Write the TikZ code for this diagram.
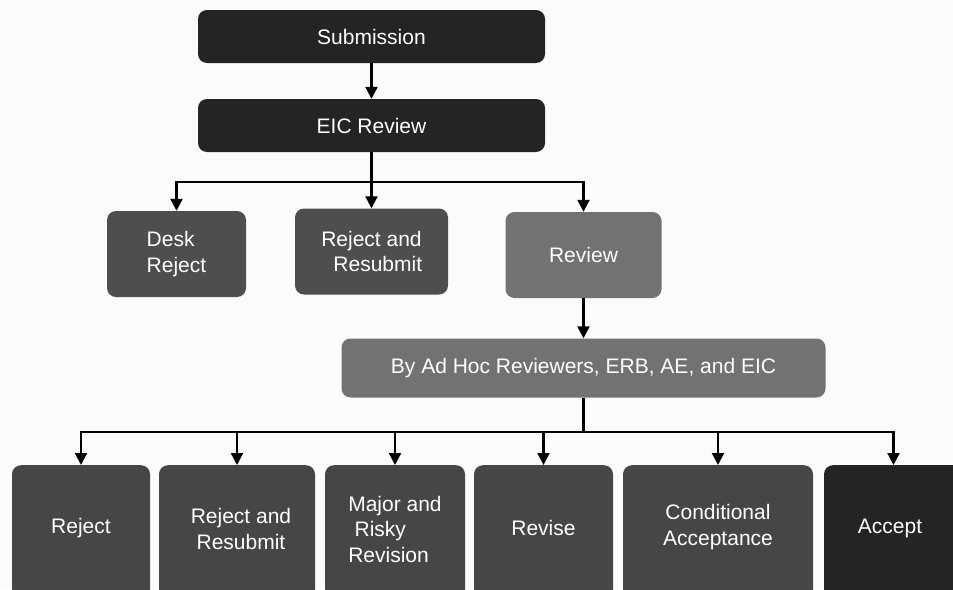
\documentclass[tikz,border=0pt]{standalone}
\usepackage{fontspec}
\setmainfont{Liberation Sans}
\usetikzlibrary{arrows.meta}
\definecolor{cdark}{HTML}{242424}
\definecolor{cmid}{HTML}{464646}
\definecolor{cdesk}{HTML}{4E4E4E}
\definecolor{clight}{HTML}{727272}
\definecolor{cbg}{HTML}{FBFBFB}
\tikzset{
  box/.style={rounded corners=9pt, inner sep=0pt, text=white, align=center,
    font=\fontsize{21}{25.5}\selectfont},
  conn/.style={line width=2.2pt, -{Triangle[length=12pt,width=12pt]}},
  plain/.style={line width=2.2pt},
  lbl/.style={text=white, align=center, inner sep=0pt, font=\fontsize{21}{25.5}\selectfont}
}
\begin{document}
\begin{tikzpicture}[x=1pt,y=-1pt]
\clip (0,0) rectangle (953,589);
\fill[cbg] (0,0) rectangle (953,589);
% top level
\node[box, fill=cdark, minimum width=347pt, minimum height=53pt] (sub) at (371.5,36.5) {Submission};
\node[box, fill=cdark, minimum width=347pt, minimum height=53pt] (eic) at (371.5,125.5) {EIC Review};
% second level
\node[box, fill=cdesk, minimum width=139pt, minimum height=86pt, align=left] (dr) at (176.5,254) {Desk\\Reject};
\node[box, fill=cdesk, minimum width=153pt, minimum height=86pt] (rr) at (371.5,251.5) {Reject and\\\hspace*{0.6em}Resubmit};
\node[box, fill=clight, minimum width=156pt, minimum height=86pt] (rv) at (583.5,255) {Review};
% reviewers
\node[box, fill=clight, minimum width=484pt, minimum height=59pt] (adhoc) at (583.5,368) {By Ad Hoc Reviewers, ERB, AE, and EIC};
% bottom boxes (extend below the frame)
\node[box, fill=cmid, minimum width=138pt, minimum height=140pt, anchor=north] (b1) at (81,465) {};
\node[box, fill=cmid, minimum width=156pt, minimum height=140pt, anchor=north] (b2) at (237,465) {};
\node[box, fill=cmid, minimum width=140pt, minimum height=140pt, anchor=north] (b3) at (395,465) {};
\node[box, fill=cmid, minimum width=139pt, minimum height=140pt, anchor=north] (b4) at (543.5,465) {};
\node[box, fill=cmid, minimum width=190pt, minimum height=140pt, anchor=north] (b5) at (718,465) {};
\node[box, fill=cdark, minimum width=139pt, minimum height=140pt, anchor=north] (b6) at (893.5,465) {};
\node[lbl] (t1) at (81,528) {Reject};
\node[lbl] (t2) at (241,529) {Reject and\\Resubmit};
\node[lbl, align=left] (t3) at (395,529) {Major and\\\hspace*{0.3em}Risky\\Revision};
\node[lbl] (t4) at (543.5,528) {Revise};
\node[lbl] (t5) at (718,527) {Conditional\\Acceptance};
\node[lbl] (t6) at (890,528) {Accept};
% connectors
\coordinate (j1) at (371.5,182);
\coordinate (j2) at (583.5,432);
\draw[conn] (sub.south) -- (eic.north);
\draw[conn] (eic.south) -- (rr.north);
\draw[conn] (j1) -| (dr.north);
\draw[conn] (j1) -| (rv.north);
\draw[conn] (rv.south) -- (adhoc.north);
\draw[plain] (adhoc.south) -- (j2);
\draw[conn] (j2) -| (b1.north);
\draw[conn] (j2) -| (b2.north);
\draw[conn] (j2) -| (b3.north);
\draw[conn] (j2) -| (b4.north);
\draw[conn] (j2) -| (b5.north);
\draw[conn] (j2) -| (b6.north);
\end{tikzpicture}
\end{document}
